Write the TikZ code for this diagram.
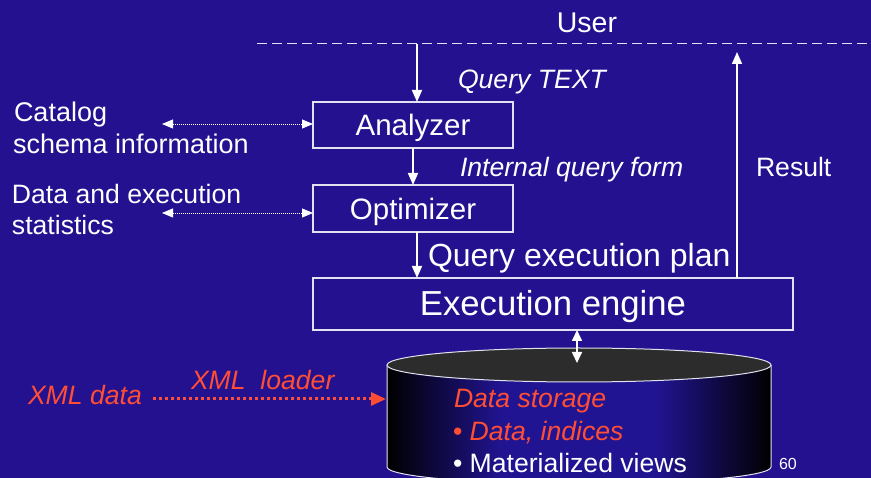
\documentclass[tikz,border=0pt]{standalone}
\usepackage{fontspec}
\setmainfont{Liberation Sans}
\usetikzlibrary{arrows.meta}

\definecolor{slidebg}{RGB}{35,17,144}
\definecolor{drumblue}{RGB}{33,20,146}
\definecolor{hot}{RGB}{255,78,52}
\definecolor{paleline}{RGB}{225,225,240}
\definecolor{lidgray}{RGB}{44,44,44}

% dark rims with a blue middle band for the storage drum
\pgfdeclarehorizontalshading{drumside}{100bp}{color(0bp)=(black); color(25bp)=(black);
  color(40bp)=(drumblue); color(60bp)=(drumblue); color(75bp)=(black); color(100bp)=(black)}

\newcommand{\fs}[1]{\fontsize{#1}{#1}\selectfont}

\begin{document}
\begin{tikzpicture}[x=1pt,y=-1pt,
  every node/.style={inner sep=0pt, outer sep=0pt, text=white},
  stage/.style={draw=paleline, line width=1.2pt, minimum width=200pt, minimum height=46pt},
  flow/.style={draw=white, line width=1.6pt, -{Triangle[length=12pt,width=10pt]}},
  duplex/.style={draw=white, line width=1.6pt,
    {Triangle[length=11pt,width=10pt]}-{Triangle[length=11pt,width=10pt]}},
  lookup/.style={draw=white, line width=0.8pt, dash pattern=on 1pt off 1pt,
    {Triangle[length=11pt,width=9pt]}-{Triangle[length=11pt,width=9pt]}},
  loader/.style={draw=hot, line width=3pt, dash pattern=on 3pt off 3pt,
    -{Triangle[length=15pt,width=13pt]}},
  stagetext/.style={anchor=base, font=\fs{29.5}},
  lbl/.style={anchor=base west, font=\fs{27}},
  note/.style={anchor=base west, font=\fs{26.6}\itshape},
  hotnote/.style={anchor=base west, font=\fs{26.6}\itshape, text=hot},
]
\useasboundingbox (0,0) rectangle (871,478);
\clip (0,0) rectangle (871,478);
\fill[slidebg] (0,0) rectangle (871,478);

% user boundary
\node[anchor=base, font=\fs{28.5}] (user) at (587,33) {User};
\draw[paleline, line width=1pt, dash pattern=on 10pt off 5pt] (257,44) -- (871,44);

% processing stages
\node[stage] (analyzer) at (413,125) {};
\node[stagetext] (analyzertext) at (413,136) {Analyzer};
\node[stage, minimum height=47pt] (optimizer) at (413,208.5) {};
\node[stagetext] (optimizertext) at (413,220) {Optimizer};
\node[stage, minimum width=480pt, minimum height=52pt] (engine) at (553,304) {};
\node[anchor=base, font=\fs{34.7}] (enginetext) at (553,316) {Execution engine};

% labels on the flow
\node[note] (qtext) at (458,89) {Query TEXT};
\node[note] (iform) at (460,177) {Internal query form};
\node[anchor=base west, font=\fs{32}] (plan) at (428,266.7) {Query execution plan};
\node[lbl, font=\fs{26.6}] (result) at (756,177) {Result};

% side inputs
\node[lbl] (catalog) at (14,122) {Catalog};
\node[lbl] (schema) at (13,154) {schema information};
\node[lbl, font=\fs{26.6}] (dstats) at (12,204) {Data and execution};
\node[lbl, font=\fs{26.6}] (stats) at (12,235) {statistics};

% flow arrows
\coordinate (qin) at (417,44);
\draw[flow] (qin) -- (qin |- analyzer.north);
\draw[flow] (analyzer.south) -- (optimizer.north);
\coordinate (planx) at (417,0);
\draw[flow] (planx |- optimizer.south) -- (planx |- engine.north);
\coordinate (resultend) at (737,52);
\draw[flow] (resultend |- engine.north) -- (resultend);

% catalog and statistics lookups
\coordinate (catend) at (162,124);
\draw[lookup] (catend) -- (catend -| analyzer.west);
\coordinate (statend) at (162,213);
\draw[lookup] (statend) -- (statend -| optimizer.west);

% data storage cylinder
\shade[shading=drumside]
  (387,365) -- (387,467) arc[start angle=180, end angle=0, x radius=192, y radius=17]
  -- (771,365) -- cycle;
\draw[paleline, line width=1pt]
  (387,365) -- (387,467) arc[start angle=180, end angle=0, x radius=192, y radius=17]
  -- (771,365);
\filldraw[fill=lidgray, draw=paleline, line width=1pt] (579,365) ellipse[x radius=192, y radius=17];
\coordinate (storetop) at (577,363);
\draw[duplex] (storetop |- engine.south) -- (storetop);

\node[hotnote] (storage) at (454,408) {Data storage};
\node[hotnote] (indices) at (453,441) {{\upshape\textbullet} Data, indices};
\node[lbl, font=\fs{26.6}] (views) at (453,473) {\textbullet{} Materialized views};

% XML loading
\node[hotnote] (xmldata) at (28,405) {XML data};
\node[hotnote] (xmlloader) at (191,390) {XML\ \ loader};
\coordinate (loadin) at (386,399);
\path ([xshift=11pt]xmldata.east) coordinate (loadfrom);
\draw[loader] (loadfrom |- loadin) -- (loadin);

% page number
\node[anchor=base west, font=\fs{16}] (pageno) at (779,469) {60};
\end{tikzpicture}
\end{document}
